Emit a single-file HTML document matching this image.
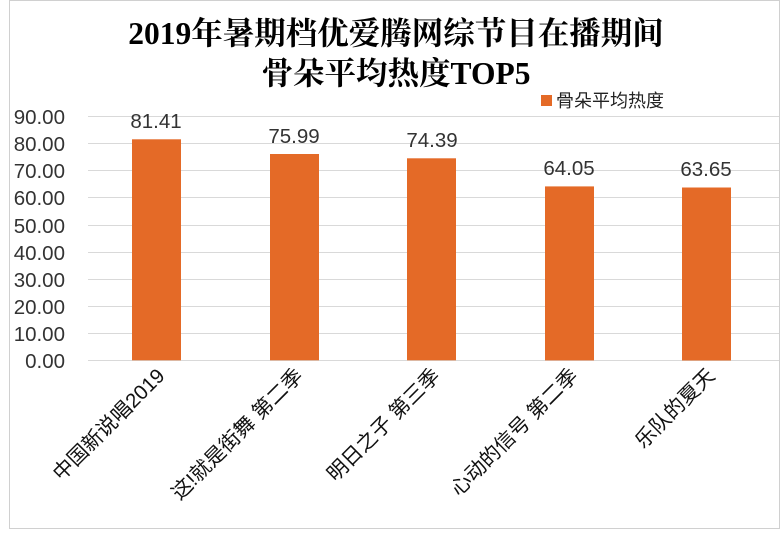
<!DOCTYPE html>
<html><head><meta charset="utf-8"><style>html,body{margin:0;padding:0;background:#fff}</style></head><body>
<svg width="782" height="532" xmlns="http://www.w3.org/2000/svg" font-family="'Liberation Sans','Noto Sans CJK SC',sans-serif">
<rect x="9.5" y="0.5" width="770" height="528" fill="#fff" stroke="#d0d0d0"/>
<g font-family="'Liberation Serif','Noto Serif CJK SC',serif" font-weight="bold" font-size="31.5" text-anchor="middle" fill="#000">
<text x="396" y="44">2019年暑期档优爱腾网综节目在播期间</text>
<text x="396" y="84">骨朵平均热度TOP5</text>
</g>
<rect x="541" y="95" width="11" height="11" fill="#e46a27"/>
<text x="556" y="107" font-size="18" fill="#222">骨朵平均热度</text>
<g stroke="#d9d9d9" stroke-width="1">
<line x1="88" x2="779" y1="116.5" y2="116.5"/><line x1="88" x2="779" y1="143.5" y2="143.5"/>
<line x1="88" x2="779" y1="170.5" y2="170.5"/><line x1="88" x2="779" y1="197.5" y2="197.5"/>
<line x1="88" x2="779" y1="225.5" y2="225.5"/><line x1="88" x2="779" y1="252.5" y2="252.5"/>
<line x1="88" x2="779" y1="279.5" y2="279.5"/><line x1="88" x2="779" y1="306.5" y2="306.5"/>
<line x1="88" x2="779" y1="333.5" y2="333.5"/><line x1="88" x2="779" y1="360.5" y2="360.5"/>
</g>
<g font-size="20.5" fill="#333" text-anchor="end">
<text x="65" y="124">90.00</text><text x="65" y="151">80.00</text><text x="65" y="178">70.00</text>
<text x="65" y="205">60.00</text><text x="65" y="233">50.00</text><text x="65" y="260">40.00</text>
<text x="65" y="287">30.00</text><text x="65" y="314">20.00</text><text x="65" y="341">10.00</text>
<text x="65" y="368">0.00</text>
</g>
<g fill="#e46a27">
<rect x="132" y="139.3" width="49" height="221"/>
<rect x="270" y="154.0" width="49" height="206.3"/>
<rect x="407" y="158.3" width="49" height="202"/>
<rect x="545" y="186.4" width="49" height="174"/>
<rect x="682" y="187.5" width="49" height="173"/>
</g>
<g font-size="20.5" fill="#333" text-anchor="middle">
<text x="156" y="128">81.41</text><text x="294" y="143">75.99</text><text x="432" y="147">74.39</text>
<text x="569" y="175">64.05</text><text x="706" y="176">63.65</text>
</g>
<g font-size="20.5" fill="#111" text-anchor="end">
<text transform="translate(166,377) rotate(-45)">中国新说唱2019</text>
<text transform="translate(304,377) rotate(-45)">这!就是街舞 第二季</text>
<text transform="translate(441,377) rotate(-45)">明日之子 第三季</text>
<text transform="translate(579,377) rotate(-45)">心动的信号 第二季</text>
<text transform="translate(716,377) rotate(-45)">乐队的夏天</text>
</g>
</svg>
</body></html>
